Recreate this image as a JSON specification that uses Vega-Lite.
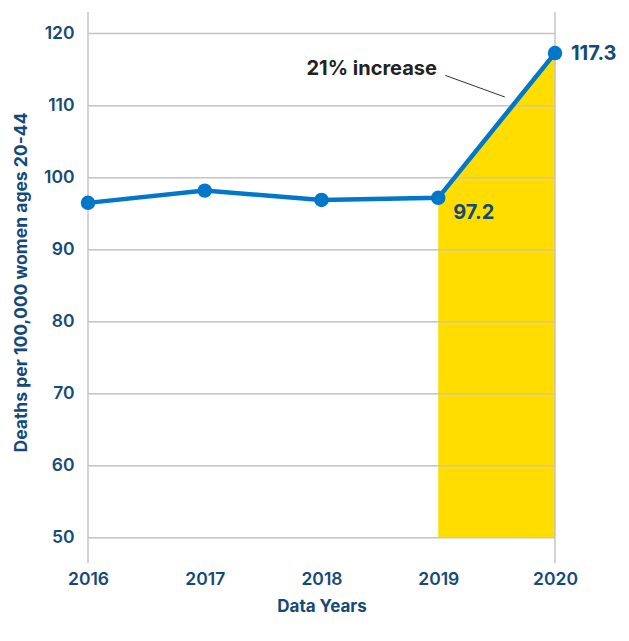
{
  "$schema": "https://vega.github.io/schema/vega-lite/v6.json",
  "width": 467,
  "height": 551,
  "autosize": {"type": "none"},
  "padding": {"left": 88, "top": 12, "right": 74, "bottom": 78},
  "config": {"view": {"stroke": null}, "font": "Inter"},
  "datasets": {
    "rates": [
      {"year": 2016, "rate": 96.5},
      {"year": 2017, "rate": 98.2},
      {"year": 2018, "rate": 96.9},
      {"year": 2019, "rate": 97.2},
      {"year": 2020, "rate": 117.3}
    ],
    "grid": [{"v": 50}, {"v": 60}, {"v": 70}, {"v": 80}, {"v": 90}, {"v": 100}, {"v": 110}, {"v": 120}],
    "edges": [{"e": 2016}, {"e": 2020}],
    "note": [{"x": 2018.43, "y": 115.1, "x2": 2019.06, "y2": 114.2, "x3": 2019.57, "y3": 111.2, "label": "21% increase"}]
  },
  "encoding": {
    "x": {
      "type": "quantitative",
      "scale": {"domain": [2016, 2020], "nice": false, "zero": false},
      "axis": {
        "title": "Data Years",
        "values": [2016, 2017, 2018, 2019, 2020],
        "format": "d",
        "grid": false,
        "domain": false,
        "ticks": false,
        "tickSize": 0,
        "labelFlush": false,
        "labelPadding": 7,
        "labelFontSize": 17.5,
        "labelFontWeight": 600,
        "labelColor": "#154a78",
        "titleFontSize": 17,
        "titleFontWeight": 700,
        "titleColor": "#154a78",
        "titleY": 35
      }
    },
    "y": {
      "type": "quantitative",
      "scale": {"domain": [46.5, 123], "nice": false, "zero": false},
      "axis": {
        "title": "Deaths per 100,000 women ages 20-44",
        "values": [50, 60, 70, 80, 90, 100, 110, 120],
        "grid": false,
        "domain": false,
        "ticks": false,
        "tickSize": 0,
        "labelFlush": false,
        "labelPadding": 14,
        "labelFontSize": 17.5,
        "labelFontWeight": 600,
        "labelColor": "#154a78",
        "titleFontSize": 17.5,
        "titleFontWeight": 700,
        "titleColor": "#154a78",
        "titleX": -67,
        "titleY": 270,
        "titleBaseline": "middle"
      }
    }
  },
  "layer": [
    {
      "data": {"name": "rates"},
      "transform": [{"filter": "datum.year >= 2019"}],
      "mark": {"type": "area", "color": "#FFDD00"},
      "encoding": {
        "x": {"field": "year"},
        "y": {"field": "rate"},
        "y2": {"datum": 50}
      }
    },
    {
      "data": {"name": "grid"},
      "mark": {"type": "rule", "color": "#c4c4c4", "strokeWidth": 1.5},
      "encoding": {"y": {"field": "v"}}
    },
    {
      "data": {"name": "edges"},
      "mark": {"type": "rule", "color": "#c4c4c4", "strokeWidth": 1.5},
      "encoding": {"x": {"field": "e"}}
    },
    {
      "data": {"name": "note"},
      "mark": {"type": "rule", "color": "#333333", "strokeWidth": 1},
      "encoding": {
        "x": {"field": "x2"},
        "y": {"field": "y2"},
        "x2": {"field": "x3"},
        "y2": {"field": "y3"}
      }
    },
    {
      "data": {"name": "note"},
      "mark": {"type": "text", "color": "#222222", "fontSize": 20, "fontWeight": 700, "align": "center", "baseline": "middle"},
      "encoding": {
        "x": {"field": "x"},
        "y": {"field": "y"},
        "text": {"field": "label"}
      }
    },
    {
      "data": {"name": "rates"},
      "mark": {"type": "line", "color": "#0077C8", "strokeWidth": 4.5},
      "encoding": {"x": {"field": "year"}, "y": {"field": "rate"}}
    },
    {
      "data": {"name": "rates"},
      "mark": {"type": "point", "filled": true, "opacity": 1, "color": "#0077C8", "size": 210},
      "encoding": {"x": {"field": "year"}, "y": {"field": "rate"}}
    },
    {
      "data": {"name": "rates"},
      "transform": [{"filter": "datum.year == 2019"}],
      "mark": {"type": "text", "color": "#154a78", "fontSize": 20, "fontWeight": 700, "align": "left", "baseline": "middle", "dx": 15, "dy": 15},
      "encoding": {"x": {"field": "year"}, "y": {"field": "rate"}, "text": {"field": "rate", "format": ".1f"}}
    },
    {
      "data": {"name": "rates"},
      "transform": [{"filter": "datum.year == 2020"}],
      "mark": {"type": "text", "color": "#154a78", "fontSize": 20, "fontWeight": 700, "align": "left", "baseline": "middle", "dx": 16, "dy": 1},
      "encoding": {"x": {"field": "year"}, "y": {"field": "rate"}, "text": {"field": "rate", "format": ".1f"}}
    }
  ]
}
